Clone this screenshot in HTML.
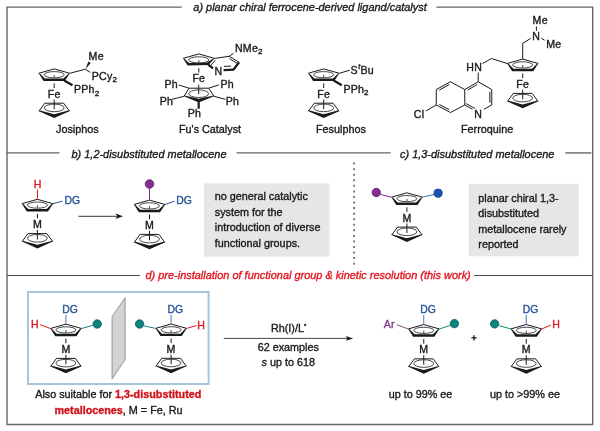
<!DOCTYPE html><html><head><meta charset="utf-8"><style>html,body{margin:0;padding:0;background:#fff;}svg{display:block;will-change:transform;}</style></head><body><svg width="600" height="431" viewBox="0 0 600 431" style="font-family:'Liberation Sans',sans-serif">
<rect width="600" height="431" fill="#ffffff"/>
<g stroke="#666666" stroke-width="1.4" fill="none" stroke-linecap="square">
<polyline points="181,7.1 7,7.1 7,424.5 592.7,424.5 592.7,7.1 437,7.1"/>
<line x1="7" y1="152.9" x2="58.7" y2="152.9"/>
<line x1="237.3" y1="152.9" x2="390" y2="152.9"/>
<line x1="566" y1="152.9" x2="590.7" y2="152.9"/>
</g>
<line x1="7" y1="275.4" x2="140" y2="275.4" stroke="#4a4a4a" stroke-width="1.05"/>
<line x1="474" y1="275.4" x2="592.7" y2="275.4" stroke="#4a4a4a" stroke-width="1.05"/>
<line x1="354.1" y1="162.6" x2="354.1" y2="265" stroke="#3a3a3a" stroke-width="1.3" stroke-dasharray="2,3.56"/>
<text x="193.3" y="11.1" font-size="10.95" fill="#1a1a1a" stroke="#1a1a1a" stroke-width="0.35" text-anchor="start" font-style="italic">a) planar chiral ferrocene-derived ligand/catalyst</text>
<text x="71.5" y="157.7" font-size="10.95" fill="#1a1a1a" stroke="#1a1a1a" stroke-width="0.35" text-anchor="start" font-style="italic">b) 1,2-disubstituted metallocene</text>
<text x="400" y="157.7" font-size="10.95" fill="#1a1a1a" stroke="#1a1a1a" stroke-width="0.35" text-anchor="start" font-style="italic">c) 1,3-disubstituted metallocene</text>
<text x="145.5" y="279.4" font-size="10.95" fill="#e2161f" stroke="#e2161f" stroke-width="0.35" text-anchor="start" font-style="italic">d) pre-installation of functional group &amp; kinetic resolution (this work)</text>
<rect x="204.1" y="183.3" width="125.4" height="73.4" fill="#e6e6e6"/>
<rect x="468.8" y="183.8" width="110" height="72.5" fill="#e6e6e6"/>
<text x="214.8" y="200.1" font-size="10.8" fill="#1a1a1a" stroke="#1a1a1a" stroke-width="0.35" text-anchor="start">no general catalytic</text>
<text x="214.8" y="215.6" font-size="10.8" fill="#1a1a1a" stroke="#1a1a1a" stroke-width="0.35" text-anchor="start">system for the</text>
<text x="214.8" y="231.1" font-size="10.8" fill="#1a1a1a" stroke="#1a1a1a" stroke-width="0.35" text-anchor="start">introduction of diverse</text>
<text x="214.8" y="246.6" font-size="10.8" fill="#1a1a1a" stroke="#1a1a1a" stroke-width="0.35" text-anchor="start">functional groups.</text>
<text x="478.3" y="201.8" font-size="10.8" fill="#1a1a1a" stroke="#1a1a1a" stroke-width="0.35" text-anchor="start">planar chiral 1,3-</text>
<text x="478.3" y="217.2" font-size="10.8" fill="#1a1a1a" stroke="#1a1a1a" stroke-width="0.35" text-anchor="start">disubstituted</text>
<text x="478.3" y="232.6" font-size="10.8" fill="#1a1a1a" stroke="#1a1a1a" stroke-width="0.35" text-anchor="start">metallocene rarely</text>
<text x="478.3" y="248" font-size="10.8" fill="#1a1a1a" stroke="#1a1a1a" stroke-width="0.35" text-anchor="start">reported</text>
<text x="56" y="132.5" font-size="10.8" fill="#1a1a1a" stroke="#1a1a1a" stroke-width="0.35" text-anchor="start">Josiphos</text>
<text x="179" y="133" font-size="10.8" fill="#1a1a1a" stroke="#1a1a1a" stroke-width="0.35" text-anchor="start">Fu's Catalyst</text>
<text x="316" y="132.5" font-size="10.8" fill="#1a1a1a" stroke="#1a1a1a" stroke-width="0.35" text-anchor="start">Fesulphos</text>
<text x="461" y="133" font-size="10.8" fill="#1a1a1a" stroke="#1a1a1a" stroke-width="0.35" text-anchor="start">Ferroquine</text>
<polyline points="38.7,73.3 54.2,68.9 69.8,73.3" fill="none" stroke="#1a1a1a" stroke-width="1" stroke-linejoin="round"/>
<polygon points="38.7,73.3 43.6,81 64.8,81 69.8,73.3 68.7,73.4 63.4,78.6 45,78.6 39.8,73.4" fill="#1a1a1a" stroke="none" stroke-width="0"/>
<ellipse cx="54.2" cy="74.7" rx="10" ry="3.1" fill="none" stroke="#333" stroke-width="0.9"/>
<line x1="54.2" y1="74.9" x2="54.2" y2="77.6" stroke="#333" stroke-width="0.9" />
<line x1="54.2" y1="83.4" x2="54.2" y2="88" stroke="#1a1a1a" stroke-width="1" />
<text transform="translate(54.2,97.8) scale(1.06,1)" font-size="10.0" fill="#1a1a1a" stroke="#1a1a1a" stroke-width="0.35" text-anchor="middle" letter-spacing="0.2">Fe</text>
<line x1="54.2" y1="99.6" x2="54.2" y2="109.1" stroke="#1a1a1a" stroke-width="1" />
<polyline points="38.9,111.2 44.8,103.2 63.6,103.2 69.5,111.2" fill="none" stroke="#1a1a1a" stroke-width="1" stroke-linejoin="round"/>
<polygon points="38.9,111.2 54.2,118.1 69.5,111.2 69.1,110.3 54.2,114.3 39.3,110.3" fill="#1a1a1a" stroke="none" stroke-width="0"/>
<ellipse cx="54.2" cy="107.9" rx="9.9" ry="3.8" fill="none" stroke="#333" stroke-width="0.9"/>
<line x1="69.8" y1="73.3" x2="85.3" y2="69.2" stroke="#1a1a1a" stroke-width="1.0" />
<polygon points="85.3,69.2 90.79,63.04 88.41,61.56" fill="#1a1a1a" stroke="none" stroke-width="0"/>
<line x1="85.3" y1="69.2" x2="90.3" y2="72.4" stroke="#1a1a1a" stroke-width="1.0" />
<text transform="translate(88.6,59.5) scale(1.06,1)" font-size="10.0" fill="#1a1a1a" stroke="#1a1a1a" stroke-width="0.35" text-anchor="start" letter-spacing="0.2">Me</text>
<text transform="translate(91.8,79.7) scale(1.06,1)" font-size="10.0" fill="#1a1a1a" stroke="#1a1a1a" stroke-width="0.35" text-anchor="start" letter-spacing="0.2">PCy<tspan font-size="7.6" dy="2.6">2</tspan></text>
<line x1="64.2" y1="80.4" x2="72.5" y2="85.2" stroke="#1a1a1a" stroke-width="2.3" stroke-linecap="butt"/>
<text transform="translate(74,93) scale(1.06,1)" font-size="10.0" fill="#1a1a1a" stroke="#1a1a1a" stroke-width="0.35" text-anchor="start" letter-spacing="0.2">PPh<tspan font-size="7.6" dy="2.6">2</tspan></text>
<polyline points="183.1,58.4 198.8,53.9 214.4,58.4" fill="none" stroke="#1a1a1a" stroke-width="1" stroke-linejoin="round"/>
<polygon points="183.1,58.4 187.7,65.4 208.5,65 214.4,58.4 213.3,58.5 207.1,62.6 189.1,63 184.2,58.5" fill="#1a1a1a" stroke="none" stroke-width="0"/>
<ellipse cx="198.8" cy="59.9" rx="10" ry="3.1" fill="none" stroke="#333" stroke-width="0.9"/>
<line x1="198.8" y1="60.1" x2="198.8" y2="62.8" stroke="#333" stroke-width="0.9" />
<line x1="214.4" y1="58.4" x2="229.3" y2="56.3" stroke="#1a1a1a" stroke-width="1.0" />
<line x1="229.3" y1="56.3" x2="239.1" y2="62.3" stroke="#1a1a1a" stroke-width="1.0" />
<line x1="229.48" y1="58.64" x2="236.93" y2="63.2" stroke="#1a1a1a" stroke-width="1.0" />
<line x1="239.1" y1="62.3" x2="233.5" y2="69.6" stroke="#1a1a1a" stroke-width="2.3" stroke-linecap="butt"/>
<line x1="234.1" y1="69.6" x2="223.6" y2="70.1" stroke="#1a1a1a" stroke-width="2.3" stroke-linecap="butt"/>
<line x1="223.8" y1="66.4" x2="231.1" y2="66.1" stroke="#1a1a1a" stroke-width="1.0" />
<line x1="208.2" y1="64.6" x2="213" y2="68.4" stroke="#1a1a1a" stroke-width="2.3" stroke-linecap="butt"/>
<line x1="210.51" y1="65.61" x2="215.23" y2="60.33" stroke="#1a1a1a" stroke-width="1.0" />
<text transform="translate(218.5,74.6) scale(1.06,1)" font-size="10.0" fill="#1a1a1a" stroke="#1a1a1a" stroke-width="0.35" text-anchor="middle" letter-spacing="0.2">N</text>
<line x1="229.3" y1="56.3" x2="233.5" y2="53.2" stroke="#1a1a1a" stroke-width="1.0" />
<text transform="translate(235,51.8) scale(1.06,1)" font-size="10.0" fill="#1a1a1a" stroke="#1a1a1a" stroke-width="0.35" text-anchor="start" letter-spacing="0.2">NMe<tspan font-size="7.6" dy="2.6">2</tspan></text>
<line x1="198.8" y1="68.2" x2="198.8" y2="72.5" stroke="#1a1a1a" stroke-width="1.0" />
<text transform="translate(198.8,82.4) scale(1.06,1)" font-size="10.0" fill="#1a1a1a" stroke="#1a1a1a" stroke-width="0.35" text-anchor="middle" letter-spacing="0.2">Fe</text>
<line x1="198.7" y1="84.7" x2="198.7" y2="94" stroke="#1a1a1a" stroke-width="1.0" />
<polyline points="184,96.3 189.1,88.2 208.7,88.2 214,96.3" fill="none" stroke="#1a1a1a" stroke-width="1" stroke-linejoin="round"/>
<polygon points="184,96.3 198.7,102.6 214,96.3 213.6,95.4 198.7,98.8 184.4,95.4" fill="#1a1a1a" stroke="none" stroke-width="0"/>
<ellipse cx="198.7" cy="93.7" rx="9.9" ry="3.8" fill="none" stroke="#333" stroke-width="0.9"/>
<line x1="189.1" y1="88.2" x2="178.7" y2="85" stroke="#1a1a1a" stroke-width="1.0" />
<text transform="translate(164.5,88) scale(1.06,1)" font-size="10.0" fill="#1a1a1a" stroke="#1a1a1a" stroke-width="0.35" text-anchor="start" letter-spacing="0.2">Ph</text>
<line x1="208.7" y1="88.2" x2="218.7" y2="85" stroke="#1a1a1a" stroke-width="1.0" />
<text transform="translate(220.5,88) scale(1.06,1)" font-size="10.0" fill="#1a1a1a" stroke="#1a1a1a" stroke-width="0.35" text-anchor="start" letter-spacing="0.2">Ph</text>
<line x1="184" y1="96.3" x2="172" y2="99.3" stroke="#1a1a1a" stroke-width="1.0" />
<text transform="translate(159.8,104.7) scale(1.06,1)" font-size="10.0" fill="#1a1a1a" stroke="#1a1a1a" stroke-width="0.35" text-anchor="start" letter-spacing="0.2">Ph</text>
<line x1="214" y1="96.3" x2="225.3" y2="99.3" stroke="#1a1a1a" stroke-width="1.0" />
<text transform="translate(225.8,104.7) scale(1.06,1)" font-size="10.0" fill="#1a1a1a" stroke="#1a1a1a" stroke-width="0.35" text-anchor="start" letter-spacing="0.2">Ph</text>
<line x1="198.7" y1="102.1" x2="198.7" y2="108.7" stroke="#1a1a1a" stroke-width="2.2" stroke-linecap="butt"/>
<text transform="translate(187.8,117.3) scale(1.06,1)" font-size="10.0" fill="#1a1a1a" stroke="#1a1a1a" stroke-width="0.35" text-anchor="start" letter-spacing="0.2">Ph</text>
<polyline points="308.2,73.3 323.7,68.9 339.3,73.3" fill="none" stroke="#1a1a1a" stroke-width="1" stroke-linejoin="round"/>
<polygon points="308.2,73.3 313.1,81 334.3,81 339.3,73.3 338.2,73.4 332.9,78.6 314.5,78.6 309.3,73.4" fill="#1a1a1a" stroke="none" stroke-width="0"/>
<ellipse cx="323.7" cy="74.7" rx="10" ry="3.1" fill="none" stroke="#333" stroke-width="0.9"/>
<line x1="323.7" y1="74.9" x2="323.7" y2="77.6" stroke="#333" stroke-width="0.9" />
<line x1="323.7" y1="83.4" x2="323.7" y2="88" stroke="#1a1a1a" stroke-width="1" />
<text transform="translate(323.7,97.8) scale(1.06,1)" font-size="10.0" fill="#1a1a1a" stroke="#1a1a1a" stroke-width="0.35" text-anchor="middle" letter-spacing="0.2">Fe</text>
<line x1="323.7" y1="99.6" x2="323.7" y2="109.1" stroke="#1a1a1a" stroke-width="1" />
<polyline points="308.4,111.2 314.3,103.2 333.1,103.2 339,111.2" fill="none" stroke="#1a1a1a" stroke-width="1" stroke-linejoin="round"/>
<polygon points="308.4,111.2 323.7,118.1 339,111.2 338.6,110.3 323.7,114.3 308.8,110.3" fill="#1a1a1a" stroke="none" stroke-width="0"/>
<ellipse cx="323.7" cy="107.9" rx="9.9" ry="3.8" fill="none" stroke="#333" stroke-width="0.9"/>
<line x1="339.3" y1="73.3" x2="349.8" y2="70.2" stroke="#1a1a1a" stroke-width="1.0" />
<text transform="translate(350.6,73.6) scale(1.06,1)" font-size="10.0" fill="#1a1a1a" stroke="#1a1a1a" stroke-width="0.35" text-anchor="start" letter-spacing="0.2">S<tspan font-size="6.8" font-style="italic" dx="0.3" dy="-4.2">t</tspan><tspan dx="0.1" dy="4.2">Bu</tspan></text>
<line x1="333.7" y1="80.4" x2="341.8" y2="85.2" stroke="#1a1a1a" stroke-width="2.3" stroke-linecap="butt"/>
<text transform="translate(343.4,92.6) scale(1.06,1)" font-size="10.0" fill="#1a1a1a" stroke="#1a1a1a" stroke-width="0.35" text-anchor="start" letter-spacing="0.2">PPh<tspan font-size="7.6" dy="2.6">2</tspan></text>
<polyline points="507.2,63.5 522.7,59.1 538.3,63.5" fill="none" stroke="#1a1a1a" stroke-width="1" stroke-linejoin="round"/>
<polygon points="507.2,63.5 512.1,71.2 533.3,71.2 538.3,63.5 537.2,63.6 531.9,68.8 513.5,68.8 508.3,63.6" fill="#1a1a1a" stroke="none" stroke-width="0"/>
<ellipse cx="522.7" cy="64.9" rx="10" ry="3.1" fill="none" stroke="#333" stroke-width="0.9"/>
<line x1="522.7" y1="65.1" x2="522.7" y2="67.8" stroke="#333" stroke-width="0.9" />
<line x1="522.7" y1="73.6" x2="522.7" y2="78.2" stroke="#1a1a1a" stroke-width="1" />
<text transform="translate(522.7,88) scale(1.06,1)" font-size="10.0" fill="#1a1a1a" stroke="#1a1a1a" stroke-width="0.35" text-anchor="middle" letter-spacing="0.2">Fe</text>
<line x1="522.7" y1="89.8" x2="522.7" y2="99.3" stroke="#1a1a1a" stroke-width="1" />
<polyline points="507.4,101.4 513.3,93.4 532.1,93.4 538,101.4" fill="none" stroke="#1a1a1a" stroke-width="1" stroke-linejoin="round"/>
<polygon points="507.4,101.4 522.7,108.3 538,101.4 537.6,100.5 522.7,104.5 507.8,100.5" fill="#1a1a1a" stroke="none" stroke-width="0"/>
<ellipse cx="522.7" cy="98.1" rx="9.9" ry="3.8" fill="none" stroke="#333" stroke-width="0.9"/>
<line x1="522.7" y1="59.1" x2="522.7" y2="43.3" stroke="#1a1a1a" stroke-width="1.0" />
<line x1="522.7" y1="43.3" x2="530.7" y2="38.4" stroke="#1a1a1a" stroke-width="1.0" />
<text transform="translate(536.3,39.5) scale(1.06,1)" font-size="10.0" fill="#1a1a1a" stroke="#1a1a1a" stroke-width="0.35" text-anchor="middle" letter-spacing="0.2">N</text>
<line x1="536.4" y1="26.4" x2="536.4" y2="30.8" stroke="#1a1a1a" stroke-width="1.0" />
<text transform="translate(532.6,24.2) scale(1.06,1)" font-size="10.0" fill="#1a1a1a" stroke="#1a1a1a" stroke-width="0.35" text-anchor="start" letter-spacing="0.2">Me</text>
<line x1="541.4" y1="38.3" x2="544.6" y2="40.2" stroke="#1a1a1a" stroke-width="1.0" />
<text transform="translate(546.2,47.8) scale(1.06,1)" font-size="10.0" fill="#1a1a1a" stroke="#1a1a1a" stroke-width="0.35" text-anchor="start" letter-spacing="0.2">Me</text>
<line x1="507.2" y1="63.5" x2="491.5" y2="58.5" stroke="#1a1a1a" stroke-width="1.0" />
<line x1="491.5" y1="58.5" x2="482.5" y2="63.5" stroke="#1a1a1a" stroke-width="1.0" />
<text transform="translate(466.3,70.5) scale(1.06,1)" font-size="10.0" fill="#1a1a1a" stroke="#1a1a1a" stroke-width="0.35" text-anchor="start" letter-spacing="0.2">HN</text>
<line x1="478.2" y1="72.6" x2="478.2" y2="81.75" stroke="#1a1a1a" stroke-width="1.0" />
<line x1="478.2" y1="81.75" x2="491.75" y2="89.55" stroke="#1a1a1a" stroke-width="1.0" />
<line x1="491.75" y1="89.55" x2="491.75" y2="105" stroke="#1a1a1a" stroke-width="1.0" />
<line x1="464.75" y1="89.55" x2="464.75" y2="105" stroke="#1a1a1a" stroke-width="1.0" />
<line x1="464.75" y1="89.55" x2="450.5" y2="81.75" stroke="#1a1a1a" stroke-width="1.0" />
<line x1="450.5" y1="81.75" x2="436.25" y2="89.55" stroke="#1a1a1a" stroke-width="1.0" />
<line x1="436.25" y1="89.55" x2="436.25" y2="105" stroke="#1a1a1a" stroke-width="1.0" />
<line x1="436.25" y1="105" x2="450.5" y2="112.5" stroke="#1a1a1a" stroke-width="1.0" />
<line x1="450.5" y1="112.5" x2="464.75" y2="105" stroke="#1a1a1a" stroke-width="1.0" />
<line x1="478.2" y1="81.75" x2="464.75" y2="89.55" stroke="#1a1a1a" stroke-width="1.0" />
<line x1="464.75" y1="105" x2="472.5" y2="109.3" stroke="#1a1a1a" stroke-width="1.0" />
<line x1="483.9" y1="109.3" x2="491.75" y2="105" stroke="#1a1a1a" stroke-width="1.0" />
<line x1="477.14" y1="84.56" x2="467.72" y2="90.02" stroke="#1a1a1a" stroke-width="1.0" />
<line x1="489.85" y1="91.87" x2="489.85" y2="102.68" stroke="#1a1a1a" stroke-width="1.0" />
<line x1="466.16" y1="103.61" x2="474.93" y2="108.47" stroke="#1a1a1a" stroke-width="1.0" />
<line x1="449.27" y1="84.59" x2="439.3" y2="90.05" stroke="#1a1a1a" stroke-width="1.0" />
<line x1="439.27" y1="104.44" x2="449.25" y2="109.69" stroke="#1a1a1a" stroke-width="1.0" />
<text transform="translate(478.2,117.8) scale(1.06,1)" font-size="10.0" fill="#1a1a1a" stroke="#1a1a1a" stroke-width="0.35" text-anchor="middle" letter-spacing="0.2">N</text>
<line x1="436.25" y1="105" x2="425.8" y2="111" stroke="#1a1a1a" stroke-width="1.0" />
<text transform="translate(413.8,117.8) scale(1.06,1)" font-size="10.0" fill="#1a1a1a" stroke="#1a1a1a" stroke-width="0.35" text-anchor="start" letter-spacing="0.2">Cl</text>
<polyline points="21.9,203.7 37.4,199.3 53,203.7" fill="none" stroke="#1a1a1a" stroke-width="1" stroke-linejoin="round"/>
<polygon points="21.9,203.7 26.8,211.4 48,211.4 53,203.7 51.9,203.8 46.6,209 28.2,209 23,203.8" fill="#1a1a1a" stroke="none" stroke-width="0"/>
<ellipse cx="37.4" cy="205.1" rx="10" ry="3.1" fill="none" stroke="#333" stroke-width="0.9"/>
<line x1="37.4" y1="205.3" x2="37.4" y2="208" stroke="#333" stroke-width="0.9" />
<line x1="37.4" y1="213.8" x2="37.4" y2="218.4" stroke="#1a1a1a" stroke-width="1" />
<text transform="translate(37.4,228.2) scale(1.06,1)" font-size="10.0" fill="#1a1a1a" stroke="#1a1a1a" stroke-width="0.35" text-anchor="middle" letter-spacing="0.2">M</text>
<line x1="37.4" y1="230" x2="37.4" y2="239.5" stroke="#1a1a1a" stroke-width="1" />
<polyline points="22.1,241.6 28,233.6 46.8,233.6 52.7,241.6" fill="none" stroke="#1a1a1a" stroke-width="1" stroke-linejoin="round"/>
<polygon points="22.1,241.6 37.4,248.5 52.7,241.6 52.3,240.7 37.4,244.7 22.5,240.7" fill="#1a1a1a" stroke="none" stroke-width="0"/>
<ellipse cx="37.4" cy="238.3" rx="9.9" ry="3.8" fill="none" stroke="#333" stroke-width="0.9"/>
<line x1="37.4" y1="199.3" x2="37.5" y2="189.6" stroke="#e2161f" stroke-width="1" />
<text transform="translate(37.6,187.9) scale(1.06,1)" font-size="10.0" fill="#e2161f" stroke="#e2161f" stroke-width="0.35" text-anchor="middle" letter-spacing="0.2">H</text>
<line x1="53" y1="203.7" x2="62.6" y2="201.2" stroke="#24539a" stroke-width="1" />
<text x="64.4" y="203.5" font-size="10.4" fill="#24539a" stroke="#24539a" stroke-width="0.35" text-anchor="start">DG</text>
<line x1="78.5" y1="216.3" x2="117" y2="216.3" stroke="#333" stroke-width="1.0" />
<polygon points="123,216.3 115.5,213.6 117.3,216.3 115.5,219" fill="#1a1a1a" stroke="none" stroke-width="0"/>
<polyline points="134,204.5 149.5,200.1 165.1,204.5" fill="none" stroke="#1a1a1a" stroke-width="1" stroke-linejoin="round"/>
<polygon points="134,204.5 138.9,212.2 160.1,212.2 165.1,204.5 164,204.6 158.7,209.8 140.3,209.8 135.1,204.6" fill="#1a1a1a" stroke="none" stroke-width="0"/>
<ellipse cx="149.5" cy="205.9" rx="10" ry="3.1" fill="none" stroke="#333" stroke-width="0.9"/>
<line x1="149.5" y1="206.1" x2="149.5" y2="208.8" stroke="#333" stroke-width="0.9" />
<line x1="149.5" y1="214.6" x2="149.5" y2="219.2" stroke="#1a1a1a" stroke-width="1" />
<text transform="translate(149.5,229) scale(1.06,1)" font-size="10.0" fill="#1a1a1a" stroke="#1a1a1a" stroke-width="0.35" text-anchor="middle" letter-spacing="0.2">M</text>
<line x1="149.5" y1="230.8" x2="149.5" y2="240.3" stroke="#1a1a1a" stroke-width="1" />
<polyline points="134.2,242.4 140.1,234.4 158.9,234.4 164.8,242.4" fill="none" stroke="#1a1a1a" stroke-width="1" stroke-linejoin="round"/>
<polygon points="134.2,242.4 149.5,249.3 164.8,242.4 164.4,241.5 149.5,245.5 134.6,241.5" fill="#1a1a1a" stroke="none" stroke-width="0"/>
<ellipse cx="149.5" cy="239.1" rx="9.9" ry="3.8" fill="none" stroke="#333" stroke-width="0.9"/>
<line x1="149.5" y1="200.1" x2="149.5" y2="188.2" stroke="#7f2d86" stroke-width="1" />
<circle cx="149.5" cy="184" r="4.3" fill="#852f90" stroke="#5e1a66" stroke-width="0.8"/>
<line x1="165.1" y1="204.5" x2="174.5" y2="201.2" stroke="#24539a" stroke-width="1" />
<text x="176.3" y="203.5" font-size="10.4" fill="#24539a" stroke="#24539a" stroke-width="0.35" text-anchor="start">DG</text>
<polyline points="391.4,197.2 406.9,192.8 422.5,197.2" fill="none" stroke="#1a1a1a" stroke-width="1" stroke-linejoin="round"/>
<polygon points="391.4,197.2 396.3,204.9 417.5,204.9 422.5,197.2 421.4,197.3 416.1,202.5 397.7,202.5 392.5,197.3" fill="#1a1a1a" stroke="none" stroke-width="0"/>
<ellipse cx="406.9" cy="198.6" rx="10" ry="3.1" fill="none" stroke="#333" stroke-width="0.9"/>
<line x1="406.9" y1="198.8" x2="406.9" y2="201.5" stroke="#333" stroke-width="0.9" />
<line x1="406.9" y1="207.3" x2="406.9" y2="211.9" stroke="#1a1a1a" stroke-width="1" />
<text transform="translate(406.9,221.7) scale(1.06,1)" font-size="10.0" fill="#1a1a1a" stroke="#1a1a1a" stroke-width="0.35" text-anchor="middle" letter-spacing="0.2">M</text>
<line x1="406.9" y1="223.5" x2="406.9" y2="233" stroke="#1a1a1a" stroke-width="1" />
<polyline points="391.6,235.1 397.5,227.1 416.3,227.1 422.2,235.1" fill="none" stroke="#1a1a1a" stroke-width="1" stroke-linejoin="round"/>
<polygon points="391.6,235.1 406.9,242 422.2,235.1 421.8,234.2 406.9,238.2 392,234.2" fill="#1a1a1a" stroke="none" stroke-width="0"/>
<ellipse cx="406.9" cy="231.8" rx="9.9" ry="3.8" fill="none" stroke="#333" stroke-width="0.9"/>
<line x1="391.4" y1="197.2" x2="380.3" y2="194.4" stroke="#7f2d86" stroke-width="1" />
<circle cx="376.3" cy="192.5" r="4.2" fill="#852f90" stroke="#5e1a66" stroke-width="0.8"/>
<line x1="422.5" y1="197.2" x2="434" y2="194.4" stroke="#3b6fb0" stroke-width="1" />
<circle cx="438.1" cy="193.2" r="4.1" fill="#1657ad" stroke="#0c3d86" stroke-width="0.8"/>
<rect x="28" y="292" width="180.6" height="92" fill="none" stroke="#a9c3da" stroke-width="2"/>
<polygon points="125.1,297.7 125.1,359.6 112.1,378.9 112.1,316.7" fill="#d4d4d4" stroke="#8a8a8a" stroke-width="0.9"/>
<polyline points="50.4,328.5 65.9,324.1 81.5,328.5" fill="none" stroke="#1a1a1a" stroke-width="1" stroke-linejoin="round"/>
<polygon points="50.4,328.5 55.3,336.2 76.5,336.2 81.5,328.5 80.4,328.6 75.1,333.8 56.7,333.8 51.5,328.6" fill="#1a1a1a" stroke="none" stroke-width="0"/>
<ellipse cx="65.9" cy="329.9" rx="10" ry="3.1" fill="none" stroke="#333" stroke-width="0.9"/>
<line x1="65.9" y1="330.1" x2="65.9" y2="332.8" stroke="#333" stroke-width="0.9" />
<line x1="65.9" y1="338.6" x2="65.9" y2="343.2" stroke="#1a1a1a" stroke-width="1" />
<text transform="translate(65.9,353) scale(1.06,1)" font-size="10.0" fill="#1a1a1a" stroke="#1a1a1a" stroke-width="0.35" text-anchor="middle" letter-spacing="0.2">M</text>
<line x1="65.9" y1="354.8" x2="65.9" y2="364.3" stroke="#1a1a1a" stroke-width="1" />
<polyline points="50.6,366.4 56.5,358.4 75.3,358.4 81.2,366.4" fill="none" stroke="#1a1a1a" stroke-width="1" stroke-linejoin="round"/>
<polygon points="50.6,366.4 65.9,373.3 81.2,366.4 80.8,365.5 65.9,369.5 51,365.5" fill="#1a1a1a" stroke="none" stroke-width="0"/>
<ellipse cx="65.9" cy="363.1" rx="9.9" ry="3.8" fill="none" stroke="#333" stroke-width="0.9"/>
<line x1="65.9" y1="324.1" x2="65.9" y2="314.9" stroke="#4a75b0" stroke-width="1" />
<text x="62.3" y="312.6" font-size="10.4" fill="#24539a" stroke="#24539a" stroke-width="0.35" text-anchor="start">DG</text>
<line x1="50.4" y1="328.5" x2="40.2" y2="324.7" stroke="#e2161f" stroke-width="1" />
<text transform="translate(35,327.5) scale(1.06,1)" font-size="10.0" fill="#e2161f" stroke="#e2161f" stroke-width="0.35" text-anchor="middle" letter-spacing="0.2">H</text>
<line x1="81.5" y1="328.5" x2="93" y2="325.3" stroke="#10857f" stroke-width="1" />
<circle cx="97.2" cy="324" r="4.2" fill="#0c8480" stroke="#065c5a" stroke-width="0.8"/>
<polyline points="155.6,328.4 171.1,324 186.7,328.4" fill="none" stroke="#1a1a1a" stroke-width="1" stroke-linejoin="round"/>
<polygon points="155.6,328.4 160.5,336.1 181.7,336.1 186.7,328.4 185.6,328.5 180.3,333.7 161.9,333.7 156.7,328.5" fill="#1a1a1a" stroke="none" stroke-width="0"/>
<ellipse cx="171.1" cy="329.8" rx="10" ry="3.1" fill="none" stroke="#333" stroke-width="0.9"/>
<line x1="171.1" y1="330" x2="171.1" y2="332.7" stroke="#333" stroke-width="0.9" />
<line x1="171.1" y1="338.5" x2="171.1" y2="343.1" stroke="#1a1a1a" stroke-width="1" />
<text transform="translate(171.1,352.9) scale(1.06,1)" font-size="10.0" fill="#1a1a1a" stroke="#1a1a1a" stroke-width="0.35" text-anchor="middle" letter-spacing="0.2">M</text>
<line x1="171.1" y1="354.7" x2="171.1" y2="364.2" stroke="#1a1a1a" stroke-width="1" />
<polyline points="155.8,366.3 161.7,358.3 180.5,358.3 186.4,366.3" fill="none" stroke="#1a1a1a" stroke-width="1" stroke-linejoin="round"/>
<polygon points="155.8,366.3 171.1,373.2 186.4,366.3 186,365.4 171.1,369.4 156.2,365.4" fill="#1a1a1a" stroke="none" stroke-width="0"/>
<ellipse cx="171.1" cy="363" rx="9.9" ry="3.8" fill="none" stroke="#333" stroke-width="0.9"/>
<line x1="171.1" y1="324" x2="171.1" y2="314.9" stroke="#4a75b0" stroke-width="1" />
<text x="167.5" y="312.6" font-size="10.4" fill="#24539a" stroke="#24539a" stroke-width="0.35" text-anchor="start">DG</text>
<line x1="155.6" y1="328.4" x2="144.2" y2="325.9" stroke="#10857f" stroke-width="1" />
<circle cx="139.6" cy="324" r="4.2" fill="#0c8480" stroke="#065c5a" stroke-width="0.8"/>
<line x1="186.7" y1="328.4" x2="196.6" y2="325.5" stroke="#e2161f" stroke-width="1" />
<text transform="translate(201.3,328.6) scale(1.06,1)" font-size="10.0" fill="#e2161f" stroke="#e2161f" stroke-width="0.35" text-anchor="middle" letter-spacing="0.2">H</text>
<text x="118.3" y="398.4" font-size="10.8" fill="#1a1a1a" stroke="#1a1a1a" stroke-width="0.35" text-anchor="middle">Also suitable for <tspan font-weight="bold" fill="#d3141c" stroke="#d3141c">1,3-disubstituted</tspan></text>
<text x="118.5" y="414" font-size="10.8" fill="#1a1a1a" stroke="#1a1a1a" stroke-width="0.35" text-anchor="middle"><tspan font-weight="bold" fill="#d3141c" stroke="#d3141c">metallocenes</tspan>, M = Fe, Ru</text>
<line x1="223.75" y1="338.4" x2="347" y2="338.4" stroke="#333" stroke-width="0.9" />
<polygon points="353.2,338.4 345.8,336.1 347.3,338.4 345.8,340.7" fill="#1a1a1a" stroke="none" stroke-width="0"/>
<text x="288.6" y="331.7" font-size="10.8" fill="#1a1a1a" stroke="#1a1a1a" stroke-width="0.35" text-anchor="middle">Rh(I)/L<tspan font-size="6" dy="-3.5">*</tspan></text>
<text x="288.3" y="350.9" font-size="10.8" fill="#1a1a1a" stroke="#1a1a1a" stroke-width="0.35" text-anchor="middle">62 examples</text>
<text x="288.3" y="366.2" font-size="10.8" fill="#1a1a1a" stroke="#1a1a1a" stroke-width="0.35" text-anchor="middle"><tspan font-style="italic">s</tspan> up to 618</text>
<polyline points="408.25,328.95 423.75,324.55 439.35,328.95" fill="none" stroke="#1a1a1a" stroke-width="1" stroke-linejoin="round"/>
<polygon points="408.25,328.95 413.15,336.65 434.35,336.65 439.35,328.95 438.25,329.05 432.95,334.25 414.55,334.25 409.35,329.05" fill="#1a1a1a" stroke="none" stroke-width="0"/>
<ellipse cx="423.75" cy="330.35" rx="10" ry="3.1" fill="none" stroke="#333" stroke-width="0.9"/>
<line x1="423.75" y1="330.55" x2="423.75" y2="333.25" stroke="#333" stroke-width="0.9" />
<line x1="423.75" y1="339.05" x2="423.75" y2="343.65" stroke="#1a1a1a" stroke-width="1" />
<text transform="translate(423.75,353.45) scale(1.06,1)" font-size="10.0" fill="#1a1a1a" stroke="#1a1a1a" stroke-width="0.35" text-anchor="middle" letter-spacing="0.2">M</text>
<line x1="423.75" y1="355.25" x2="423.75" y2="364.75" stroke="#1a1a1a" stroke-width="1" />
<polyline points="408.45,366.85 414.35,358.85 433.15,358.85 439.05,366.85" fill="none" stroke="#1a1a1a" stroke-width="1" stroke-linejoin="round"/>
<polygon points="408.45,366.85 423.75,373.75 439.05,366.85 438.65,365.95 423.75,369.95 408.85,365.95" fill="#1a1a1a" stroke="none" stroke-width="0"/>
<ellipse cx="423.75" cy="363.55" rx="9.9" ry="3.8" fill="none" stroke="#333" stroke-width="0.9"/>
<line x1="423.75" y1="324.55" x2="423.75" y2="314.9" stroke="#4a75b0" stroke-width="1" />
<text x="420.15" y="312.6" font-size="10.4" fill="#24539a" stroke="#24539a" stroke-width="0.35" text-anchor="start">DG</text>
<line x1="408.25" y1="328.95" x2="396.8" y2="324.7" stroke="#8a4f90" stroke-width="1" />
<text transform="translate(389.2,328) scale(1.06,1)" font-size="10.0" fill="#7d3f86" stroke="#7d3f86" stroke-width="0.35" text-anchor="middle" letter-spacing="0.2">Ar</text>
<line x1="439.35" y1="328.95" x2="451.5" y2="325" stroke="#10857f" stroke-width="1" />
<circle cx="454.4" cy="323.6" r="4.2" fill="#0c8480" stroke="#065c5a" stroke-width="0.8"/>
<line x1="471.4" y1="337.8" x2="476.6" y2="337.8" stroke="#222" stroke-width="1.35" />
<line x1="474" y1="335.2" x2="474" y2="340.4" stroke="#222" stroke-width="1.35" />
<polyline points="510.75,328.95 526.25,324.55 541.85,328.95" fill="none" stroke="#1a1a1a" stroke-width="1" stroke-linejoin="round"/>
<polygon points="510.75,328.95 515.65,336.65 536.85,336.65 541.85,328.95 540.75,329.05 535.45,334.25 517.05,334.25 511.85,329.05" fill="#1a1a1a" stroke="none" stroke-width="0"/>
<ellipse cx="526.25" cy="330.35" rx="10" ry="3.1" fill="none" stroke="#333" stroke-width="0.9"/>
<line x1="526.25" y1="330.55" x2="526.25" y2="333.25" stroke="#333" stroke-width="0.9" />
<line x1="526.25" y1="339.05" x2="526.25" y2="343.65" stroke="#1a1a1a" stroke-width="1" />
<text transform="translate(526.25,353.45) scale(1.06,1)" font-size="10.0" fill="#1a1a1a" stroke="#1a1a1a" stroke-width="0.35" text-anchor="middle" letter-spacing="0.2">M</text>
<line x1="526.25" y1="355.25" x2="526.25" y2="364.75" stroke="#1a1a1a" stroke-width="1" />
<polyline points="510.95,366.85 516.85,358.85 535.65,358.85 541.55,366.85" fill="none" stroke="#1a1a1a" stroke-width="1" stroke-linejoin="round"/>
<polygon points="510.95,366.85 526.25,373.75 541.55,366.85 541.15,365.95 526.25,369.95 511.35,365.95" fill="#1a1a1a" stroke="none" stroke-width="0"/>
<ellipse cx="526.25" cy="363.55" rx="9.9" ry="3.8" fill="none" stroke="#333" stroke-width="0.9"/>
<line x1="526.25" y1="324.55" x2="526.25" y2="314.9" stroke="#4a75b0" stroke-width="1" />
<text x="522.65" y="312.6" font-size="10.4" fill="#24539a" stroke="#24539a" stroke-width="0.35" text-anchor="start">DG</text>
<line x1="510.75" y1="328.95" x2="499.3" y2="325.7" stroke="#10857f" stroke-width="1" />
<circle cx="494.6" cy="323.9" r="4.2" fill="#0c8480" stroke="#065c5a" stroke-width="0.8"/>
<line x1="541.85" y1="328.95" x2="551" y2="325" stroke="#e2161f" stroke-width="1" />
<text transform="translate(556.3,328.2) scale(1.06,1)" font-size="10.0" fill="#e2161f" stroke="#e2161f" stroke-width="0.35" text-anchor="middle" letter-spacing="0.2">H</text>
<text x="420.5" y="398" font-size="10.8" fill="#1a1a1a" stroke="#1a1a1a" stroke-width="0.35" text-anchor="middle">up to 99% ee</text>
<text x="525" y="398" font-size="10.8" fill="#1a1a1a" stroke="#1a1a1a" stroke-width="0.35" text-anchor="middle">up to &gt;99% ee</text>
</svg></body></html>
